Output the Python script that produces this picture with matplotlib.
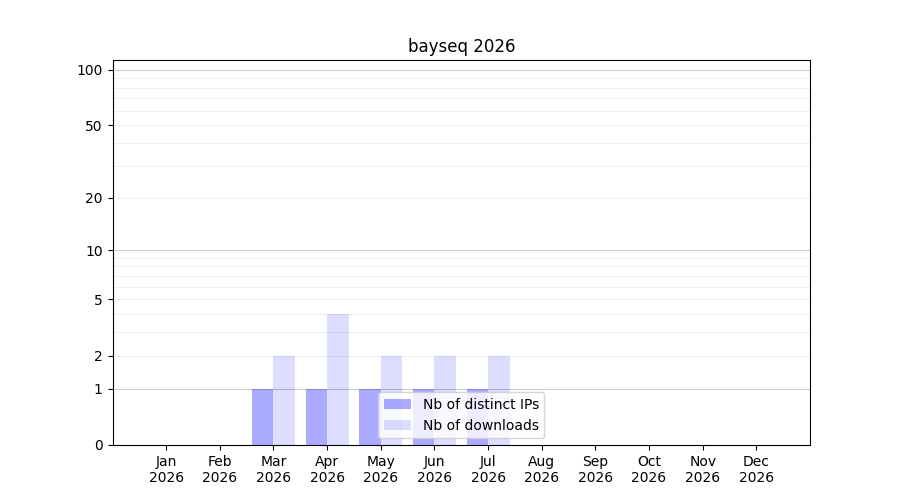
import numpy as np
import matplotlib as mpl
mpl.use('Agg')
import matplotlib.pyplot as plt

months = ['Jan', 'Feb', 'Mar', 'Apr', 'May', 'Jun',
          'Jul', 'Aug', 'Sep', 'Oct', 'Nov', 'Dec']
year = 2026
nb_ips = [0, 0, 1, 1, 1, 1, 1, 0, 0, 0, 0, 0]
nb_downloads = [0, 0, 2, 4, 2, 2, 2, 0, 0, 0, 0, 0]
major_ticks = [0, 1, 2, 5, 10, 20, 50, 100]
minor_grid = [2, 3, 4, 5, 6, 7, 8, 9, 20, 30, 40, 50, 60, 70, 80, 90]


def fwd(y):
    return np.log10(np.maximum(y, 0) + 1)


def inv(v):
    return 10 ** v - 1


fig, ax = plt.subplots(figsize=(9, 5), dpi=100)
x = np.arange(1, len(months) + 1)

for v in minor_grid:
    ax.axhline(v, color='#eeeeee', linewidth=0.8, zorder=0)
for v in [1, 10, 100]:
    ax.axhline(v, color='#cccccc', linewidth=0.8, zorder=0)

ax.bar(x - 0.2, nb_ips, width=0.4, color='blue', alpha=0.33,
       linewidth=0, label='Nb of distinct IPs', zorder=1)
ax.bar(x + 0.2, nb_downloads, width=0.4, color='blue', alpha=0.133,
       linewidth=0, label='Nb of downloads', zorder=1)

ax.set_yscale('function', functions=(fwd, inv))
ax.set_ylim(0, 113)
ax.set_xlim(0, 13)

ax.set_yticks(major_ticks)
ax.set_yticklabels([str(t) for t in major_ticks])
ax.yaxis.set_minor_locator(mpl.ticker.NullLocator())
ax.set_xticks(x)
ax.set_xticklabels(['%s\n%d' % (m, year) for m in months])
ax.set_title('bayseq %d' % year)
ax.legend(loc='lower center')

plt.savefig('out.png', dpi=100)
plt.close()
